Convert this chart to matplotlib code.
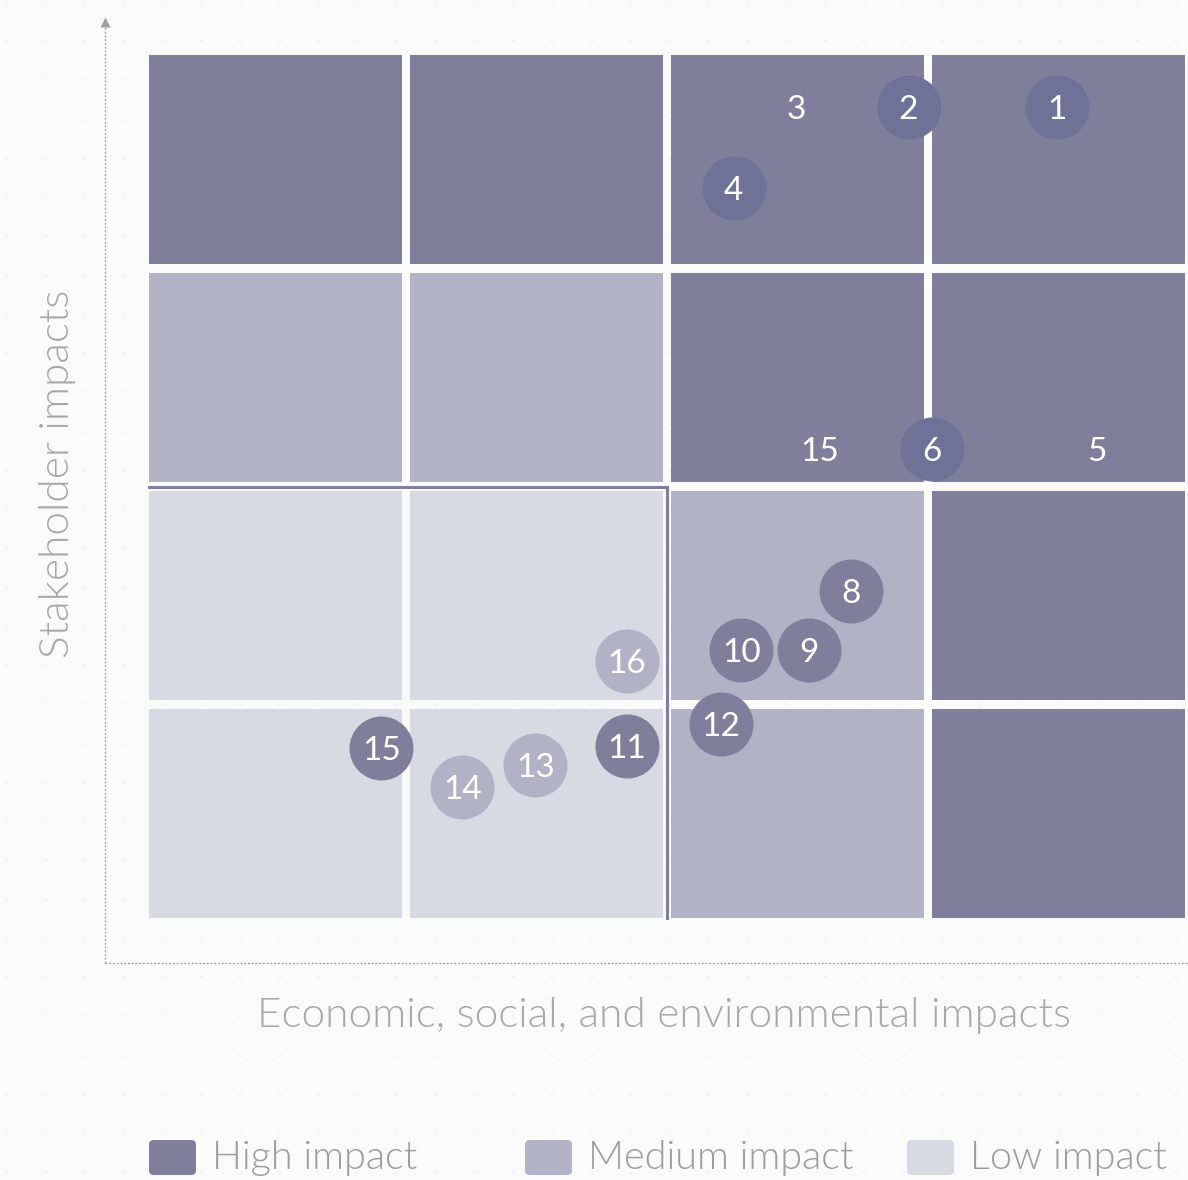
import matplotlib.pyplot as plt
from matplotlib.patches import Rectangle, FancyBboxPatch
import numpy as np

plt.rcParams['font.family'] = ['Lato', 'DejaVu Sans']

# impact level of each grid cell, rows listed top to bottom
cell_levels = [
    ["high", "high", "high", "high"],
    ["medium", "medium", "high", "high"],
    ["low", "low", "medium", "high"],
    ["low", "low", "medium", "high"],
]

# topics: label, x (economic/social/env), y (stakeholder), bubble style
labels = ["1", "2", "3", "4", "15", "6", "5", "8", "10", "9", "16", "12", "11", "15", "13", "14"]
x_vals = [3.48, 2.91, 2.48, 2.24, 2.57, 3.00, 3.63, 2.69, 2.27, 2.53, 1.83, 2.19, 1.83, 0.89, 1.48, 1.20]
y_vals = [3.72, 3.72, 3.72, 3.35, 2.15, 2.15, 2.15, 1.50, 1.23, 1.23, 1.18, 0.89, 0.79, 0.78, 0.70, 0.60]
styles = ["dark", "dark", "none", "dark", "none", "dark", "none", "mid", "mid", "mid",
          "light", "mid", "mid", "mid", "light", "light"]

legend_names = ["High impact", "Medium impact", "Low impact"]

level_colors = {"high": "#7f7f9c", "medium": "#b1b2c6", "low": "#d9d9e3"}
bubble_colors = {"dark": "#6f7296", "mid": "#7f7f9c", "light": "#b1b2c6"}

W, H = 1188, 1180
fig = plt.figure(figsize=(W / 100, H / 100), dpi=100)
fig.patch.set_facecolor("#fafafa")
ax = fig.add_axes([0, 0, 1, 1])
ax.axis("off")

# grid geometry: one unit per cell, gaps between cells
ux, uy = 261, 218          # pixels per unit
x0, y0 = 149, 918          # pixel of data origin
gx, gy = 8 / ux, 9 / uy
cw, ch = 1 - gx, 1 - gy
ax.set_xlim(-x0 / ux, (W - x0) / ux)
ax.set_ylim(-(H - y0) / uy, y0 / uy)

# faint dotted background texture
dx = np.arange(-x0, W - x0, 39) / ux + 6 / ux
dy = np.arange(y0 - H, y0, 39) / uy + 8 / uy
DX, DY = np.meshgrid(dx, dy)
ax.scatter(DX.ravel(), DY.ravel(), s=6, color="#f4f4f6", linewidths=0, zorder=0)

nrows = len(cell_levels)
for i, row in enumerate(cell_levels):
    r = nrows - 1 - i
    for c, lvl in enumerate(row):
        ax.add_patch(Rectangle((c, r), cw, ch, facecolor=level_colors[lvl],
                               edgecolor="none", zorder=1))

# outline around the low-impact zone
bx, by = 2 - gx / 2, 2 - gy / 2
ax.plot([0, bx, bx], [by, by, 0], color="#7f7f9c", lw=2.2, zorder=2,
        solid_joinstyle="miter")

# axes arrows
axx = (105 - x0) / ux
axy = (y0 - 963) / uy
ytop = (y0 - 24) / uy
ax.plot([axx, axx], [axy, ytop], color="#9a9a9a", lw=0.9, ls=(0, (1.5, 1.5)), zorder=2)
ax.plot([axx, (W - x0) / ux], [axy, axy], color="#9a9a9a", lw=0.9, ls=(0, (1.5, 1.5)), zorder=2)
ax.plot([axx], [ytop + 2 / uy], marker="^", ms=7, color="#a0a0a0", mec="none", zorder=2)

# bubbles
size = (64 * 0.72) ** 2
for lab, x, y, st in zip(labels, x_vals, y_vals, styles):
    if st != "none":
        ax.scatter([x], [y], s=size, color=bubble_colors[st], linewidths=0, zorder=3)
    ax.text(x, y, lab, ha="center", va="center_baseline", color="white",
            fontsize=24, zorder=4)

# axis titles
fig.text(664 / W, 1 - 1016 / H, "Economic, social, and environmental impacts",
         ha="center", va="center", fontsize=30.5, color="#a8a8a8", fontweight=300)
fig.text(58 / W, 1 - 474 / H, "Stakeholder impacts", rotation=90,
         ha="center", va="center", fontsize=30.5, color="#a8a8a8", fontweight=300)

# legend
leg_x = [149, 525, 907]
for name, lx, lvl in zip(legend_names, leg_x, ["high", "medium", "low"]):
    fig.patches.append(FancyBboxPatch(
        (lx / W, 1 - 1175 / H), 47 / W, 35 / H,
        boxstyle="round,pad=0,rounding_size=0.004",
        facecolor=level_colors[lvl], edgecolor="none", transform=fig.transFigure))
    fig.text((lx + 63) / W, 1 - 1158 / H, name, ha="left", va="center",
             fontsize=28.5, color="#9c9c9c", fontweight=300)

fig.savefig("out.png", dpi=100, facecolor=fig.get_facecolor())
